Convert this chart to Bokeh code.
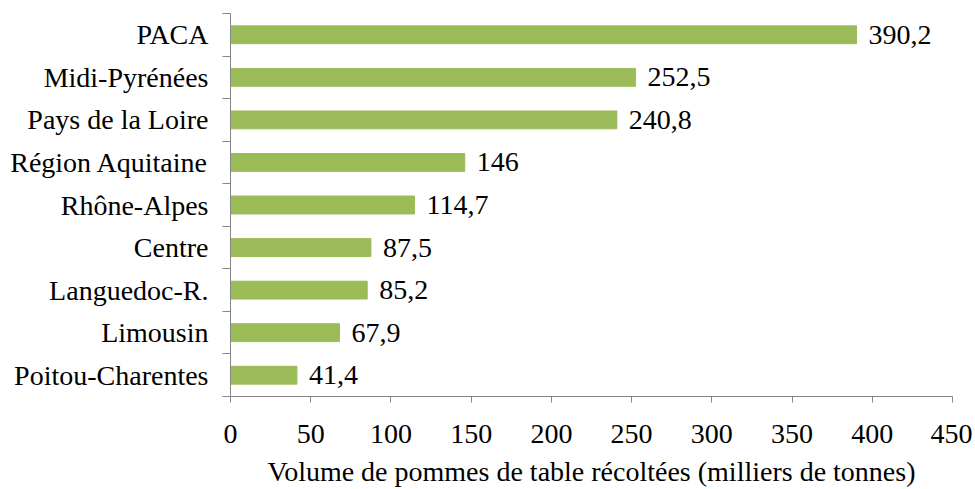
from bokeh.plotting import figure
from bokeh.models import Range1d, FixedTicker, ColumnDataSource
from bokeh.embed import file_html
from bokeh.resources import INLINE
from bokeh.core.properties import value

regions = ["PACA", "Midi-Pyrénées", "Pays de la Loire", "Région Aquitaine",
           "Rhône-Alpes", "Centre", "Languedoc-R.", "Limousin", "Poitou-Charentes"]
volumes = [390.2, 252.5, 240.8, 146, 114.7, 87.5, 85.2, 67.9, 41.4]
x_ticks = [0, 50, 100, 150, 200, 250, 300, 350, 400, 450]
axis_title = "Volume de pommes de table récoltées (milliers de tonnes)"

n = len(regions)
centers = [n - i - 0.5 for i in range(n)]
labels = [str(v).replace(".", ",") for v in volumes]
src = ColumnDataSource(dict(y=centers, v=volumes, lab=labels))

FONT = "serif"
FS = "28px"

p = figure(width=972, height=489, output_backend="svg", toolbar_location=None,
           x_range=Range1d(0, 450), y_range=Range1d(0, n),
           min_border_left=230, min_border_right=20, min_border_top=13, min_border_bottom=92)
p.outline_line_color = None
p.grid.grid_line_color = None
p.background_fill_color = "white"

p.hbar(y="y", right="v", left=0, height=0.42, source=src, color="#9BBB59")
p.text(x="v", y="y", text="lab", source=src, x_offset=12, text_baseline="middle",
       text_align="left", text_font=value(FONT), text_font_size=FS, text_color="#000000")

xa = p.xaxis[0]
xa.ticker = FixedTicker(ticks=x_ticks)
xa.axis_line_color = "#868686"
xa.major_tick_line_color = "#868686"
xa.major_tick_out = 6
xa.major_tick_in = 0
xa.minor_tick_line_color = None
xa.major_label_text_font = FONT
xa.major_label_text_font_size = FS
xa.major_label_text_color = "#000000"
xa.major_label_standoff = 22
xa.axis_label = axis_title
xa.axis_label_text_font = FONT
xa.axis_label_text_font_size = FS
xa.axis_label_text_font_style = "normal"
xa.axis_label_text_color = "#000000"
xa.axis_label_standoff = 10

ya = p.yaxis[0]
ya.ticker = FixedTicker(ticks=centers, minor_ticks=list(range(n + 1)))
ya.major_label_overrides = {c: r for c, r in zip(centers, regions)}
ya.axis_line_color = "#868686"
ya.major_tick_line_color = None
ya.minor_tick_line_color = "#868686"
ya.minor_tick_out = 8
ya.minor_tick_in = 0
ya.major_tick_out = 8
ya.major_label_text_font = FONT
ya.major_label_text_font_size = FS
ya.major_label_text_color = "#000000"
ya.major_label_standoff = 14

open("out.html", "w").write(file_html(p, INLINE))
